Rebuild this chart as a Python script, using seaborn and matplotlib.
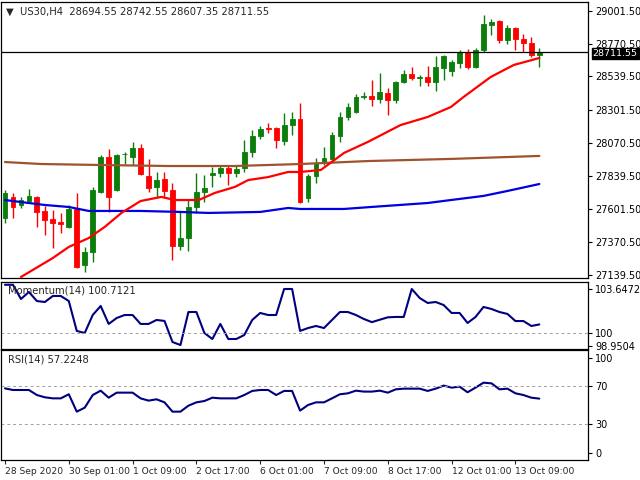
import numpy as np
import pandas as pd
import matplotlib
matplotlib.use("Agg")
import matplotlib.pyplot as plt
import matplotlib.transforms as mtransforms
import seaborn as sns

sns.set_style("white")
plt.rcParams['font.family'] = ['DejaVu Sans']

opens = [27540,27690,27633,27661,27690,27591,27534,27510,27478,27605,27210,27302,27725,27972,27739,27990,
         27972,28035,27838,27760,27817,27739,27344,27400,27619,27725,27845,27859,27894,27859,27894,28007,
         28120,28176,28176,28085,28197,28240,27683,27838,27929,27958,28120,28254,28289,28395,28402,28381,
         28423,28374,28501,28557,28529,28536,28501,28600,28578,28635,28712,28607,28726,28903,28931,28797,
         28882,28804,28776,28694.55]
highs = [27740,27718,27690,27746,27697,27626,27598,27577,27633,27718,27337,27760,27986,28028,27993,28007,
         28078,28063,27958,27866,27866,27788,27584,27668,27859,27845,27901,27908,27908,27908,28092,28162,
         28190,28212,28183,28282,28289,28353,27852,27965,28042,28148,28289,28353,28416,28430,28515,28564,
         28458,28508,28585,28607,28550,28614,28684,28691,28656,28726,28733,28741,28973,28945,28938,28903,
         28889,28839,28818,28742.55]
lows = [27505,27541,27612,27661,27478,27422,27330,27436,27471,27190,27161,27231,27718,27584,27732,27922,
        27915,27845,27725,27690,27690,27245,27316,27309,27577,27654,27760,27830,27774,27830,27866,27972,
        28100,28141,28035,28056,28127,27647,27654,27788,27915,27936,28078,28233,28282,28380,28332,28353,
        28268,28353,28494,28515,28473,28473,28437,28515,28543,28600,28592,28600,28712,28832,28776,28769,
        28726,28712,28677,28607.35]
closes = [27718,27620,27668,27697,27584,27527,27506,27500,27605,27196,27302,27739,27972,27690,27986,27993,
          28035,27852,27753,27809,27732,27344,27400,27619,27725,27753,27859,27894,27859,27887,28007,28120,
          28169,28169,28092,28197,28240,27654,27838,27929,27965,28127,28254,28324,28395,28402,28381,28430,
          28374,28501,28557,28529,28536,28501,28607,28684,28642,28712,28607,28726,28910,28924,28797,28882,
          28804,28776,28691,28711.55]

ma_red_idx = [2,6,8,10.5,12.5,14.6,17,19.6,21.3,24.3,26.3,28.8,30.5,33,35.5,37,39.6,42.5,45.5,49.6,53,55.9,57.5,60.9,63.8,67]
ma_red = [27125,27259,27337,27400,27478,27577,27661,27690,27668,27668,27718,27760,27809,27830,27866,27866,27880,
          28000,28078,28197,28254,28324,28395,28536,28621,28670]
ma_blue_idx = [0,5,8,10.5,17,22,25.5,32,35.5,37,42.5,45.9,53,55.9,60,63,67]
ma_blue = [27668,27633,27619,27591,27591,27584,27577,27584,27612,27605,27605,27619,27647,27668,27697,27732,27781]
ma_brown_idx = [0,4.6,12.1,20.5,28.8,37,45.5,55.9,67]
ma_brown = [27936,27922,27915,27908,27908,27922,27943,27958,27979]

momentum = [104.0,104.0,102.82,103.40,102.65,102.57,103.07,103.07,102.65,100.17,100.0,101.49,102.24,100.75,101.24,101.49,
            101.49,100.75,100.75,101.08,101.0,99.25,99.0,101.74,101.74,100.0,99.5,100.75,99.5,99.5,99.83,101.08,
            101.66,101.49,101.49,103.65,103.65,100.17,100.41,100.58,100.41,101.08,101.74,101.74,101.49,101.16,100.9,101.1,
            101.3,101.33,101.33,103.65,102.9,102.49,102.57,102.32,101.66,101.66,100.83,101.33,102.16,101.99,101.74,101.58,
            100.99,100.99,100.58,100.71]
rsi = [68.0,66.3,66.3,66.3,61.0,58.6,57.5,57.5,61.8,43.5,47.7,61.0,65.6,58.2,63.5,63.5,
       63.5,57.5,55.1,56.5,53.3,43.5,43.5,49.8,53.3,54.7,58.2,57.5,57.5,57.5,61.0,65.3,
       66.3,66.3,61.0,65.3,65.3,44.6,50.5,53.3,53.3,57.5,61.8,62.8,65.6,64.6,64.6,65.6,
       63.5,67.0,67.7,67.7,67.7,65.3,67.7,70.9,68.8,69.8,63.9,68.8,74.0,73.3,67.0,67.7,
       62.8,61.0,58.2,57.22]

price_ticks = [29001.50,28770.50,28539.50,28301.50,28070.50,27839.50,27601.50,27370.50,27139.50]
mom_ticks = [103.6472,100,98.9504]
rsi_ticks = [100,70,30,0]
x_tick_idx = [0,8,16,24,32,40,48,56,64]
x_tick_labels = ["28 Sep 2020","30 Sep 01:00","1 Oct 09:00","2 Oct 17:00","6 Oct 01:00",
                 "7 Oct 09:00","8 Oct 17:00","12 Oct 01:00","13 Oct 09:00"]
header = "US30,H4  28694.55 28742.55 28607.35 28711.55"

W, H = 640, 480
fig = plt.figure(figsize=(6.4, 4.8), dpi=100)
def axbox(l, t, r, b):
    return fig.add_axes([l / W, 1 - b / H, (r - l) / W, (b - t) / H])
ax = axbox(1, 2, 588, 278)
axm = axbox(1, 282, 588, 349)
axr = axbox(1, 350, 588, 460)

xlim = (-0.5, 73.1)
GREEN, RED = "#0a7d0a", "#ff0000"
idx = np.arange(len(closes))
o, h, l, c = map(np.array, (opens, highs, lows, closes))
cols = [GREEN if cc >= oo else RED for oo, cc in zip(o, c)]
ax.vlines(idx, l, h, colors=cols, lw=1, zorder=2)
body_b = np.minimum(o, c)
body_h = np.maximum(np.abs(c - o), 4)
ax.bar(idx, body_h, bottom=body_b, width=0.6, color=cols, edgecolor=cols, lw=0.6, zorder=3)

df_r = pd.DataFrame({"i": ma_red_idx, "v": ma_red})
df_b = pd.DataFrame({"i": ma_blue_idx, "v": ma_blue})
df_br = pd.DataFrame({"i": ma_brown_idx, "v": ma_brown})
sns.lineplot(data=df_br, x="i", y="v", ax=ax, color="#a0522d", lw=1.6, zorder=4)
sns.lineplot(data=df_b, x="i", y="v", ax=ax, color="#0000e0", lw=1.6, zorder=4)
sns.lineplot(data=df_r, x="i", y="v", ax=ax, color="#ff0000", lw=1.6, zorder=4)
ax.axhline(closes[-1], color="black", lw=0.9, zorder=5)

ax.set_xlim(*xlim)
ax.set_ylim(27118, 29065)
ax.yaxis.tick_right()
ax.set_yticks(price_ticks)
ax.set_yticklabels([f"{t:.2f}" for t in price_ticks])
ax.set_xticks([])
ax.set_xlabel(""); ax.set_ylabel("")
ax.text(0.008, 0.966, "\u25BC  " + header, transform=ax.transAxes, fontsize=7.2, va="center", ha="left")
trans = mtransforms.blended_transform_factory(ax.transAxes, ax.transData)
ax.text(1.008, closes[-1] - 12, f"{closes[-1]:.2f}", transform=trans, fontsize=6.8, color="white",
        va="center", ha="left", bbox=dict(boxstyle="square,pad=0.12", fc="black", ec="black"), zorder=10)

df_m = pd.DataFrame({"i": idx, "v": momentum})
sns.lineplot(data=df_m, x="i", y="v", ax=axm, color="#000080", lw=1.5)
axm.axhline(100, color="#a0a0a0", lw=0.7, ls=(0, (3, 3)))
axm.set_xlim(*xlim)
axm.set_ylim(98.67, 104.23)
axm.yaxis.tick_right()
axm.set_yticks(mom_ticks)
axm.set_yticklabels(["103.6472", "100", "98.9504"])
axm.set_xticks([])
axm.set_xlabel(""); axm.set_ylabel("")
axm.text(0.012, 0.88, "Momentum(14) 100.7121", transform=axm.transAxes, fontsize=7.2, va="center")

df_rs = pd.DataFrame({"i": idx, "v": rsi})
sns.lineplot(data=df_rs, x="i", y="v", ax=axr, color="#000080", lw=1.5)
for lv in (70, 30):
    axr.axhline(lv, color="#a0a0a0", lw=0.7, ls=(0, (3, 3)))
axr.set_xlim(*xlim)
axr.set_ylim(-7.4, 108.4)
axr.yaxis.tick_right()
axr.set_yticks(rsi_ticks)
axr.set_yticklabels([str(t) for t in rsi_ticks])
axr.set_xticks(x_tick_idx)
axr.set_xticklabels(x_tick_labels, ha="left")
axr.set_xlabel(""); axr.set_ylabel("")
axr.text(0.012, 0.91, "RSI(14) 57.2248", transform=axr.transAxes, fontsize=7.2, va="center")

for a in (ax, axm, axr):
    for s in a.spines.values():
        s.set_color("black"); s.set_linewidth(0.9)
    a.tick_params(axis="y", which="both", right=True, length=3, width=0.8, labelsize=7, pad=2, colors="black")
    a.tick_params(axis="x", length=3, width=0.8, labelsize=6.6, pad=2, bottom=True)
    a.set_facecolor("white")

fig.savefig("out.png", dpi=100, facecolor="white")
